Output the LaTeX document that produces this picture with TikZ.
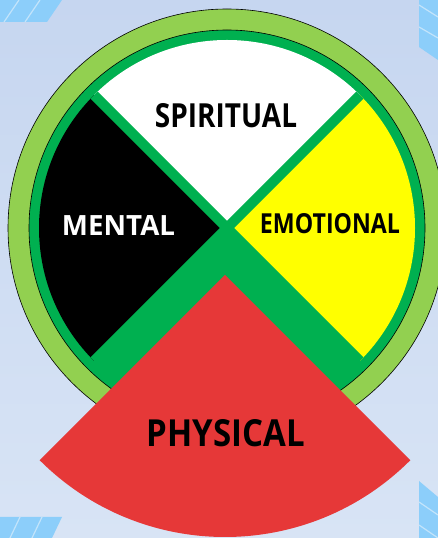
\documentclass[tikz,border=0pt]{standalone}
\usepackage{fontspec}
\setmainfont{Open Sans}
\usepackage{graphicx}
\definecolor{lgreen}{RGB}{146,208,80}
\definecolor{dgreen}{RGB}{0,176,80}
\definecolor{yel}{RGB}{255,255,0}
\definecolor{redsec}{RGB}{230,56,56}
\definecolor{stripe}{RGB}{140,206,250}
\definecolor{stripeline}{RGB}{195,228,250}
\definecolor{bgtop}{RGB}{198,214,240}
\definecolor{bgbot}{RGB}{216,228,245}
\begin{document}
\begin{tikzpicture}[x=1pt,y=1pt,
  lbl/.style={inner sep=0pt, outer sep=0pt},
  ring/.style={draw=black, line width=0.6pt},
  sline/.style={stripeline, line width=1.2pt}]
\useasboundingbox (0,0) rectangle (438,538);
\shade[top color=bgtop, bottom color=bgbot] (0,0) rectangle (438,538);
% corner stripes
\fill[stripe] (0,538) -- (62,538) -- (47,516) -- (0,516) -- cycle;
\draw[sline] (19,538) -- (4,516) (40,538) -- (25,516);
\fill[stripe] (0,21) -- (62,21) -- (52,0) -- (0,0) -- cycle;
\draw[sline] (20,21) -- (10,0) (42,21) -- (32,0);
\fill[stripe] (419,538) -- (438,538) -- (438,478) -- (419,491) -- cycle;
\draw[sline] (419,533) -- (438,521) (419,511) -- (438,500);
\fill[stripe] (419,57) -- (438,41) -- (438,0) -- (419,0) -- cycle;
\draw[sline] (419,36) -- (438,23) (419,13) -- (438,0);
% wheel
\coordinate (c) at (227,310);
\filldraw[fill=lgreen, ring] (c) circle (219);
\filldraw[fill=dgreen, ring] (c) circle (198);
\begin{scope}
  \clip (c) circle (188);
  \fill[white] (c) -- (427,510) -- (27,510) -- cycle;
  \fill[yel] (c) -- (427,510) -- (427,110) -- cycle;
  \fill[black] (c) -- (27,510) -- (27,110) -- cycle;
  \draw[dgreen, line width=10pt] (c) ++(45:195) -- ++(225:390);
  \draw[dgreen, line width=10pt] (c) ++(135:195) -- ++(315:390);
\end{scope}
% physical sector
\coordinate (a) at (225,263);
\fill[redsec] (a) -- ++(225:262) arc[start angle=225, end angle=315, radius=262] -- cycle;
% labels
\node[lbl] (spiritual) at (226,422) {\resizebox{142pt}{24pt}{\bfseries SPIRITUAL}};
\node[lbl, text=white] (mental) at (118.5,312) {\resizebox{113pt}{20pt}{\bfseries MENTAL}};
\node[lbl] (emotional) at (330,314) {\resizebox{140pt}{20pt}{\bfseries EMOTIONAL}};
\node[lbl] (physical) at (226,104.5) {\resizebox{158pt}{27pt}{\bfseries PHYSICAL}};
\end{tikzpicture}
\end{document}
